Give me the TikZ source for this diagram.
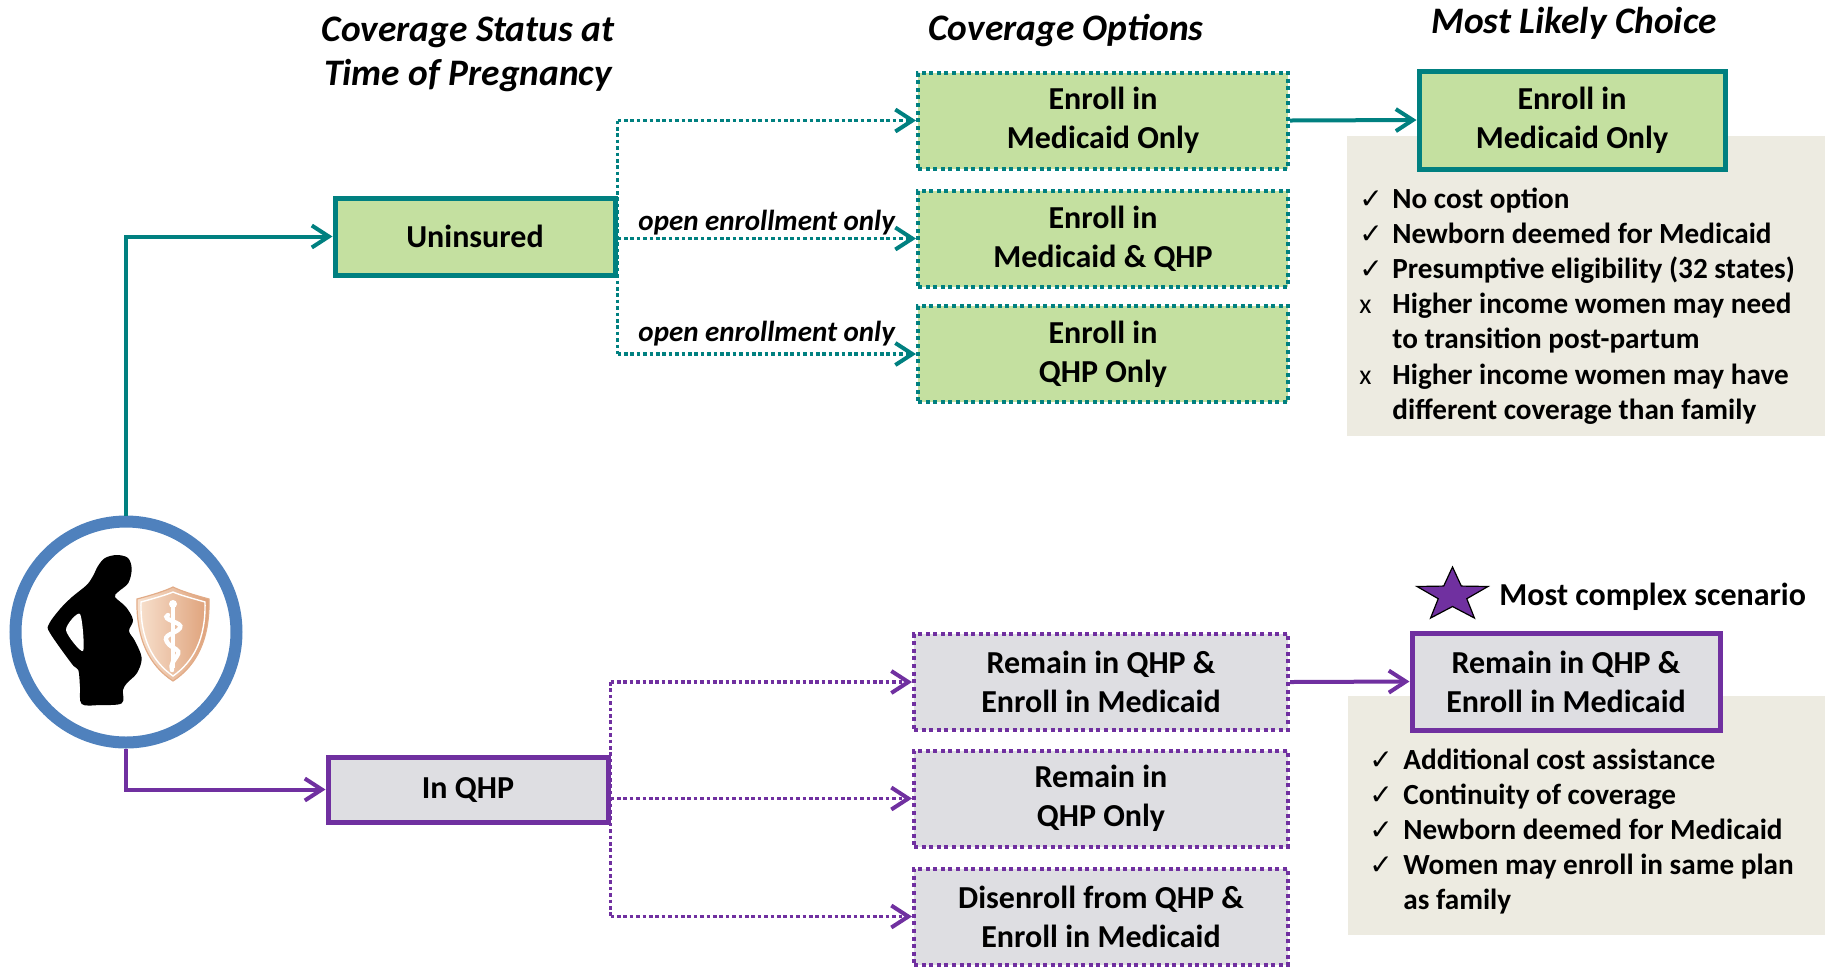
\documentclass[tikz,border=0pt]{standalone}
\usepackage{fontspec}
\setmainfont{Carlito}
\newfontfamily\symfont{DejaVu Sans}
\usetikzlibrary{arrows.meta,shapes.geometric}

\definecolor{cTeal}{RGB}{0,128,128}
\definecolor{cGreen}{RGB}{196,224,160}
\definecolor{cPurple}{RGB}{112,48,160}
\definecolor{cGrey}{RGB}{222,222,226}
\definecolor{cPanel}{RGB}{237,235,225}
\definecolor{cBlue}{RGB}{79,129,189}
\definecolor{cPeachL}{RGB}{248,226,208}
\definecolor{cPeachD}{RGB}{222,160,120}
\definecolor{cPeachE}{RGB}{226,172,136}

\newcommand\ckmark{{\symfont\fontsize{14}{14}\selectfont ✓}}
\newcommand\xmark{{\mdseries\fontsize{14}{14}\selectfont x}}

\begin{document}
\begin{tikzpicture}[x=0.5pt,y=-0.5pt,
  boxbase/.style={rectangle, inner sep=0pt, align=center,
    font=\fontsize{16}{19.5}\selectfont\bfseries},
  twoline/.style={execute at begin node={\vspace*{2.4pt}}},
  optgreen/.style={boxbase, twoline, draw=cTeal, fill=cGreen, line width=2pt,
    dash pattern=on 2pt off 1.8pt, minimum width=185pt, minimum height=48pt},
  optpurple/.style={boxbase, twoline, draw=cPurple, fill=cGrey, line width=2pt,
    dash pattern=on 2pt off 1.8pt, minimum width=187pt, minimum height=48pt},
  solidgreen/.style={boxbase, draw=cTeal, fill=cGreen, line width=2.5pt},
  solidpurple/.style={boxbase, draw=cPurple, fill=cGrey, line width=2.5pt},
  tip/.style={-{Straight Barb[length=8.5pt,width=11pt,line width=2pt]}},
  tealdot/.style={draw=cTeal, line width=1.8pt, dash pattern=on 1.8pt off 1.4pt},
  purpdot/.style={draw=cPurple, line width=1.8pt, dash pattern=on 1.8pt off 1.4pt},
  tealline/.style={draw=cTeal, line width=2pt},
  purpline/.style={draw=cPurple, line width=2pt},
  headtitle/.style={align=center, font=\fontsize{18.7}{22}\selectfont\bfseries\itshape},
  edgelabel/.style={font=\fontsize{14.5}{16}\selectfont\bfseries\itshape, inner sep=0pt, anchor=base},
  listtext/.style={inner sep=0pt, font=\fontsize{14.6}{17.6}\selectfont\bfseries}
]
\useasboundingbox (0,0) rectangle (1825,966);

% column headings
\node[headtitle] (t1) at (468,54) {Coverage Status at\\Time of Pregnancy};
\node[headtitle] (t2) at (1066,31) {Coverage Options};
\node[headtitle] (t3) at (1574,23) {Most Likely Choice};

% benefit panels behind the chosen options
\fill[cPanel] (1347,136) rectangle (1825,436);
\fill[cPanel] (1348,696) rectangle (1825,935);

% the pregnant woman with a medical shield
\node[circle, draw=cBlue, line width=6pt, minimum size=110.5pt, inner sep=0pt] (mom) at (126,632) {};
\fill[black] plot[smooth cycle, tension=0.55] coordinates {
  (116.7,555) (128,558) (131.7,569) (128.3,583) (118.3,591.7) (115,597)
  (126,607) (133,620) (129,631) (135,641) (141.7,658) (137,673)
  (127,683) (123,690) (121.7,703.3) (100,705) (81.7,704) (80,686.7)
  (78.3,670) (72,664) (50,633) (49,624) (60,609) (72,597) (86.7,585)
  (93,576) (98,566) (105,558)};
\fill[white] plot[smooth cycle, tension=0.5] coordinates {
  (66,630) (80,614) (83,651)};
\shade[left color=cPeachL, right color=cPeachD, draw=cPeachE, line width=0.6pt]
  (137,599) .. controls (152,595) and (165,591) .. (173,587)
  .. controls (181,591) and (194,595) .. (209,599)
  .. controls (210,640) and (196,666) .. (173,681)
  .. controls (150,666) and (136,640) .. (137,599) -- cycle;
\draw[white, line width=0.7pt]
  (141,602) .. controls (155,598) and (166,595) .. (173,592)
  .. controls (180,595) and (191,598) .. (205,602)
  .. controls (206,639) and (193,662) .. (173,676)
  .. controls (153,662) and (140,639) .. (141,602) -- cycle;
\draw[white, line width=1.6pt] (173,607) -- (173,668);
\fill[white] (173,604) circle (4);
\draw[white, line width=2.2pt, line cap=round]
  (168,615) .. controls (160,620) and (184,622) .. (180,628)
  .. controls (176,634) and (162,634) .. (167,642)
  .. controls (172,650) and (182,648) .. (177,656)
  .. controls (174,661) and (170,664) .. (172,670);

% current coverage status
\node[solidgreen, minimum width=140pt, minimum height=38.5pt] (unins) at (475,236.5) {Uninsured};
\node[solidpurple, minimum width=140pt, minimum height=32.5pt] (inqhp) at (468,789.5) {In QHP};

% coverage options
\node[optgreen] (g1) at (1103,120.5) {Enroll in\\Medicaid Only};
\node[optgreen] (g2) at (1103,238.5) {Enroll in\\Medicaid \& QHP};
\node[optgreen] (g3) at (1103,354) {Enroll in\\QHP Only};
\node[optpurple] (p1) at (1101,682) {Remain in QHP \&\\Enroll in Medicaid};
\node[optpurple] (p2) at (1101,798.5) {Remain in\\QHP Only};
\node[optpurple] (p3) at (1101,916.5) {Disenroll from QHP \&\\Enroll in Medicaid};

% most likely choices
\node[solidgreen, twoline, minimum width=153pt, minimum height=49pt] (gc) at (1572,120) {Enroll in\\Medicaid Only};
\node[solidpurple, twoline, minimum width=154pt, minimum height=48.5pt] (pc) at (1566,681.5) {Remain in QHP \&\\Enroll in Medicaid};

% star marker
\begin{scope}[shift={(1452.5,595.2)}]
\filldraw[fill=cPurple, draw=black, line width=0.6pt]
  (270:37.3 and 28.2) -- (306:15 and 11.3) -- (342:37.3 and 28.2) -- (18:15 and 11.3)
  -- (54:37.3 and 28.2) -- (90:15 and 11.3) -- (126:37.3 and 28.2) -- (162:15 and 11.3)
  -- (198:37.3 and 28.2) -- (234:15 and 11.3) -- cycle;
\end{scope}
\node[anchor=west, inner sep=0pt, font=\fontsize{16}{18}\selectfont\bfseries] (cplx) at (1499,597) {Most complex scenario};

% connectors from the woman
\draw[tealline, tip] (mom.north) |- (unins.west);
\draw[purpline, tip] (mom.south) |- (inqhp.west);

% uninsured options
\draw[tealdot] (unins.east |- g1.west) -- (unins.east |- g3.west);
\draw[tealdot, tip] (unins.east |- g1.west) -- (g1.west);
\draw[tealdot, tip] (unins.east |- g2.west) -- node[edgelabel, yshift=4pt] (lbl1) {open enrollment only} (g2.west);
\draw[tealdot, tip] (unins.east |- g3.west) -- node[edgelabel, yshift=6.5pt] (lbl2) {open enrollment only} (g3.west);
\draw[tealline, tip] (g1.east) -- (gc.west);

% in-QHP options
\draw[purpdot] (inqhp.east |- p1.west) -- (inqhp.east |- p3.west);
\draw[purpdot, tip] (inqhp.east |- p1.west) -- (p1.west);
\draw[purpdot, tip] (inqhp.east |- p2.west) -- (p2.west);
\draw[purpdot, tip] (inqhp.east |- p3.west) -- (p3.west);
\draw[purpline, tip] (p1.east) -- (pc.west);

% benefit lists
\node[listtext, anchor=base west] (lst1) at (1359,208) {%
  \begin{tabular}[t]{@{}p{16.5pt}@{}l@{}}
  \ckmark & No cost option\\
  \ckmark & Newborn deemed for Medicaid\\
  \ckmark & Presumptive eligibility (32 states)\\
  \xmark & Higher income women may need\\
         & to transition post-partum\\
  \xmark & Higher income women may have\\
         & different coverage than family
  \end{tabular}};
\node[listtext, anchor=base west] (lst2) at (1369,769) {%
  \begin{tabular}[t]{@{}p{17pt}@{}l@{}}
  \ckmark & Additional cost assistance\\
  \ckmark & Continuity of coverage\\
  \ckmark & Newborn deemed for Medicaid\\
  \ckmark & Women may enroll in same plan\\
          & as family
  \end{tabular}};
\end{tikzpicture}
\end{document}
